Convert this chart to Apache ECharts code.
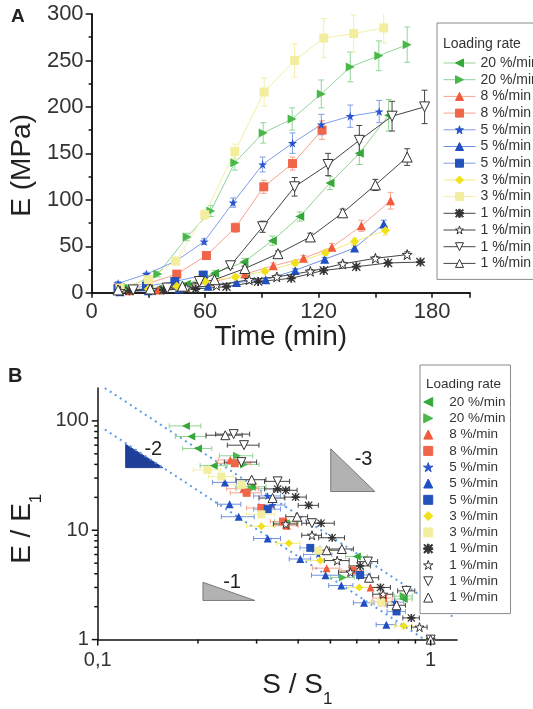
<!DOCTYPE html>
<html>
<head>
<meta charset="utf-8">
<script src="https://cdn.jsdelivr.net/npm/echarts@6/dist/echarts.min.js"></script>
<style>html,body{margin:0;padding:0;background:#fff}#c{width:533px;height:709px}</style>
</head>
<body>
<div id="c"></div>
<script>
const FONT = '"Liberation Sans", Arial, Helvetica, sans-serif';

// Legend labels, one per measurement series (same order in both panels)
const rateLabels = ['20 %/min', '20 %/min', '8 %/min', '8 %/min', '5 %/min', '5 %/min', '5 %/min',
  '3 %/min', '3 %/min', '1 %/min', '1 %/min', '1 %/min', '1 %/min'];

// Panel A: time (min), modulus E (MPa), standard deviation (MPa)
const tA0 = [20, 35, 50, 65, 80.5, 95.5, 110, 126, 141.5, 157];
const eA0 = [2, 4, 9, 21, 33, 56, 82, 118, 150, 191];
const sA0 = [1, 1, 2, 3, 4, 5, 5, 7, 12, 17];

const tA1 = [19, 35, 50.5, 63, 75.7, 90.7, 106, 121.4, 136.7, 151.8, 166.8];
const eA1 = [6, 20, 60, 88, 140, 172, 187, 214, 243, 255, 267];
const sA1 = [2, 3, 4, 6, 8, 11, 12, 15, 16, 16, 19];

const tA2 = [20, 35, 50, 65, 81, 96, 112, 127, 142.6, 158];
const eA2 = [2, 3, 6, 12, 20, 29, 37, 49, 72, 99];
const sA2 = [1, 1, 1, 2, 2, 3, 3, 4, 6, 9];

const tA3 = [14, 29.8, 45, 60.7, 76, 91, 106.2, 121.8];
const eA3 = [5, 10, 20, 40, 70, 114, 139, 175];
const sA3 = [1, 2, 2, 3, 5, 7, 7, 10];

const tA4 = [14, 29, 44.5, 59.5, 74.8, 90.4, 106.2, 121.4, 136.7, 152];
const eA4 = [10, 20, 34, 55, 97, 138, 161, 181, 190, 195];
const sA4 = [2, 2, 3, 3, 5, 8, 11, 11, 12, 12];

const tA5 = [15, 30, 46, 61.6, 76.6, 92, 107.6, 123.2, 139, 154.4];
const eA5 = [1, 2, 4, 7, 11, 14, 24, 36, 48, 74];
const sA5 = [1, 1, 1, 1, 1, 2, 2, 2, 3, 4];

const tA6 = [14, 29, 44, 59];
const eA6 = [4, 7, 12, 19];
const sA6 = [1, 1, 1, 2];

const tA7 = [15, 30, 45, 60, 76, 91.6, 107.6, 123.6, 139, 155.3];
const eA7 = [2, 4, 7, 12, 17, 23, 32, 43, 55, 67];
const sA7 = [1, 1, 1, 1, 2, 2, 3, 3, 4, 5];

const tA8 = [15, 30, 44.5, 59.8, 75.7, 91.2, 107.3, 122.7, 138.5, 154.4];
const eA8 = [5, 14, 34, 84, 152, 216, 250, 274, 279, 285];
const sA8 = [2, 2, 3, 5, 8, 15, 18, 21, 20, 16];

const tA9 = [20, 38, 55, 71.3, 88, 105.5, 122.7, 139.9, 156.7, 173.8];
const eA9 = [2, 3, 4, 6.5, 12, 15.5, 24, 28, 32, 33];
const sA9 = [1, 1, 1, 1, 1, 2, 2, 2, 2, 2];

const tA10 = [15, 32, 50, 66, 83.3, 97.9, 115.6, 132.7, 150, 166.8];
const eA10 = [2, 3, 5, 8, 14, 17, 23, 31, 37, 41];
const sA10 = [1, 1, 1, 1, 1, 2, 2, 2, 2, 3];

const tA11 = [22, 40, 57, 73.4, 90.4, 107.3, 125, 141.5, 158.8, 176];
const eA11 = [3, 5, 12, 29, 71, 114, 138, 164, 190, 200];
const sA11 = [1, 1, 2, 3, 6, 10, 12, 16, 16, 18];

const tA12 = [14, 31, 48, 65, 81, 98.5, 115.6, 132.7, 150, 166.8];
const eA12 = [3, 4, 7, 14, 26, 42, 60, 86, 116, 146];
const sA12 = [1, 1, 1, 1, 2, 3, 4, 4, 6, 9];

// Panel B: [S/S1, E/E1, error of S/S1]
const nB0 = [[0.184, 90, 0.02], [0.191, 72, 0.02], [0.2, 56, 0.02], [0.223, 39, 0.02], [0.29, 25, 0.03], [0.367, 11.6, 0.03], [0.6, 5.75, 0.045], [0.83, 2.35, 0.05], [1, 1, 0.02]];
const nB1 = [[0.262, 48, 0.03], [0.275, 40, 0.03], [0.29, 24, 0.03], [0.37, 12, 0.03], [0.545, 3.7, 0.045], [0.83, 2.5, 0.05], [1, 1, 0.02]];
const nB2 = [[0.25, 44, 0.02], [0.274, 24, 0.03], [0.37, 11, 0.03], [0.487, 4.5, 0.045], [0.66, 3.0, 0.045], [0.715, 2.2, 0.05], [1, 1, 0.02]];
const nB3 = [[0.258, 41, 0.03], [0.28, 22, 0.03], [0.31, 16, 0.03], [0.36, 12, 0.03], [0.583, 4.3, 0.045], [0.72, 2.4, 0.05], [1, 1, 0.02]];
const nB4 = [[0.324, 20.6, 0.03], [0.335, 17, 0.03], [0.46, 6.0, 0.045], [0.78, 2.2, 0.05], [1, 1, 0.02]];
const nB5 = [[0.241, 27.4, 0.02], [0.249, 17.3, 0.02], [0.265, 13.3, 0.03], [0.324, 8.4, 0.03], [0.406, 5.46, 0.03], [0.4835, 3.88, 0.045], [0.539, 3.12, 0.045], [0.631, 2.17, 0.045], [0.736, 1.37, 0.05], [1, 1, 0.02]];
const nB6 = [[0.324, 15.6, 0.03], [0.435, 6.9, 0.03], [0.614, 3.9, 0.045], [0.79, 1.81, 0.05], [1, 1, 0.02]];
const nB7 = [[0.31, 10.9, 0.03], [0.375, 7.6, 0.03], [0.466, 5.3, 0.045], [0.61, 3.0, 0.045], [0.83, 1.33, 0.05], [1, 1, 0.02]];
const nB8 = [[0.2135, 35.6, 0.02], [0.235, 31, 0.02], [0.27, 26, 0.03], [0.31, 14, 0.03], [0.46, 6.5, 0.045], [0.71, 2.2, 0.05], [1, 1, 0.02]];
const nB9 = [[0.347, 23.9, 0.03], [0.367, 23.2, 0.03], [0.393, 20.1, 0.03], [0.43, 16.9, 0.03], [0.4685, 11.6, 0.045], [0.506, 8.54, 0.045], [0.614, 4.72, 0.045], [0.707, 3.0, 0.05], [0.875, 1.58, 0.05], [1, 1, 0.02]];
const nB10 = [[0.367, 11.4, 0.03], [0.44, 9, 0.03], [0.524, 5.28, 0.045], [0.574, 4.14, 0.045], [0.72, 2.6, 0.05], [0.926, 1.3, 0.05], [1, 1, 0.02]];
const nB11 = [[0.256, 75.7, 0.03], [0.275, 60, 0.03], [0.27, 42, 0.03], [0.347, 28, 0.03], [0.44, 11.6, 0.03], [0.648, 5.17, 0.045], [0.846, 2.79, 0.05], [1, 1, 0.02]];
const nB12 = [[0.2416, 74, 0.03], [0.29, 29, 0.03], [0.335, 19.7, 0.03], [0.397, 13.3, 0.03], [0.487, 6.57, 0.045], [0.541, 6.74, 0.045], [0.653, 3.68, 0.045], [0.79, 2.06, 0.05], [1, 1, 0.02]];

// Power-law guide lines in panel B (E/E1 ~ (S/S1)^-2)
const guideUpper = [[0.105, 200], [1.18, 1.58]];
const guideLower = [[0.105, 83.5], [0.96, 1.0]];

// Slope triangles: vertices [S/S1, E/E1] and label anchor
const triSlope2 = [[0.1213, 37.4], [0.157, 37.4], [0.1213, 61]];
const triSlope3 = [[0.501, 22.6], [0.68, 22.6], [0.501, 55.6]];
const triSlope1 = [[0.207, 2.28], [0.2963, 2.28], [0.207, 3.34]];
const slopeLabels = ['-2', '-3', '-1'];
const slopeLabelAt = [[0.1468, 54.7], [0.6287, 44.5], [0.2532, 3.31]];

// Log-axis tick positions for panel B
const xMajorB = [0.1, 1];
const xMinorB = [0.2, 0.3, 0.4, 0.5, 0.6, 0.7, 0.8, 0.9];
const yMajorB = [1, 10, 100];
const yMinorB = [2, 3, 4, 5, 6, 7, 8, 9, 20, 30, 40, 50, 60, 70, 80, 90];

const timesA = [tA0, tA1, tA2, tA3, tA4, tA5, tA6, tA7, tA8, tA9, tA10, tA11, tA12];
const valuesA = [eA0, eA1, eA2, eA3, eA4, eA5, eA6, eA7, eA8, eA9, eA10, eA11, eA12];
const errorsA = [sA0, sA1, sA2, sA3, sA4, sA5, sA6, sA7, sA8, sA9, sA10, sA11, sA12];
const pointsB = [nB0, nB1, nB2, nB3, nB4, nB5, nB6, nB7, nB8, nB9, nB10, nB11, nB12];

// Marker shapes
const SYM = {
  left: 'path://M0,5L10,0L10,10Z',
  right: 'path://M10,5L0,0L0,10Z',
  up: 'path://M5,0L10,10L0,10Z',
  down: 'path://M0,0L10,0L5,10Z',
  square: 'path://M0,0H10V10H0Z',
  diamond: 'path://M5,0L10,5L5,10L0,5Z',
  star: 'path://M50,0L61.2,34.5L97.6,34.5L68.2,55.9L79.4,90.5L50,69.1L20.6,90.5L31.8,55.9L2.4,34.5L38.8,34.5Z',
  aster: 'path://M40,0L60,0L60,100L40,100Z M0,40L100,40L100,60L0,60Z M0,10L10,0L100,90L90,100Z M90,0L100,10L10,100L0,90Z'
};

// Per-series look: marker, marker colours, connecting line / error bar colour
const looks = [
  { sym: 'left', fill: '#36a83a', edge: '#36a83a', line: '#8fd38f' },
  { sym: 'right', fill: '#48b848', edge: '#48b848', line: '#8fd69a' },
  { sym: 'up', fill: '#f25a3a', edge: '#f25a3a', line: '#f8a592' },
  { sym: 'square', fill: '#f0664a', edge: '#f0664a', line: '#f7a28c' },
  { sym: 'star', fill: '#2a54cc', edge: '#2a54cc', line: '#7f9de6' },
  { sym: 'up', fill: '#1f4fc2', edge: '#1f4fc2', line: '#6f8fe0' },
  { sym: 'square', fill: '#2452bd', edge: '#2452bd', line: '#7f9ee6' },
  { sym: 'diamond', fill: '#f0e21a', edge: '#f0e21a', line: '#f3eb7a' },
  { sym: 'square', fill: '#f3ee9e', edge: '#f3ee9e', line: '#f4efa8' },
  { sym: 'aster', fill: '#333333', edge: '#333333', line: '#444444' },
  { sym: 'star', fill: '#ffffff', edge: '#333333', line: '#444444', open: true },
  { sym: 'down', fill: '#ffffff', edge: '#333333', line: '#444444', open: true },
  { sym: 'up', fill: '#ffffff', edge: '#333333', line: '#444444', open: true }
];

function vBars(color) {
  return function (params, api) {
    const x = api.value(0), y = api.value(1), e = api.value(2);
    const p1 = api.coord([x, y + e]), p2 = api.coord([x, y - e]);
    const c = 3, st = { stroke: color, lineWidth: 1 };
    return { type: 'group', children: [
      { type: 'line', shape: { x1: p1[0], y1: p1[1], x2: p2[0], y2: p2[1] }, style: st },
      { type: 'line', shape: { x1: p1[0] - c, y1: p1[1], x2: p1[0] + c, y2: p1[1] }, style: st },
      { type: 'line', shape: { x1: p2[0] - c, y1: p2[1], x2: p2[0] + c, y2: p2[1] }, style: st }
    ] };
  };
}

function hBars(color) {
  return function (params, api) {
    const x = api.value(0), y = api.value(1), e = api.value(2);
    const p1 = api.coord([x - e, y]), p2 = api.coord([x + e, y]);
    const c = 2.5, st = { stroke: color, lineWidth: 1 };
    return { type: 'group', children: [
      { type: 'line', shape: { x1: p1[0], y1: p1[1], x2: p2[0], y2: p2[1] }, style: st },
      { type: 'line', shape: { x1: p1[0], y1: p1[1] - c, x2: p1[0], y2: p1[1] + c }, style: st },
      { type: 'line', shape: { x1: p2[0], y1: p2[1] - c, x2: p2[0], y2: p2[1] + c }, style: st }
    ] };
  };
}

const series = [];

// Panel A: error bars then lines with markers
timesA.forEach(function (ts, i) {
  const lk = looks[i];
  series.push({
    type: 'custom', xAxisIndex: 0, yAxisIndex: 0, z: 2, silent: true, clip: true,
    data: ts.map(function (t, k) { return [t, valuesA[i][k], errorsA[i][k]]; }),
    encode: { x: 0, y: 1 },
    renderItem: vBars(lk.line)
  });
});
timesA.forEach(function (ts, i) {
  const lk = looks[i];
  series.push({
    type: 'line', name: 'A' + i, xAxisIndex: 0, yAxisIndex: 0, z: 3,
    data: ts.map(function (t, k) { return [t, valuesA[i][k]]; }),
    symbol: SYM[lk.sym], symbolSize: lk.open ? 10 : 9, showAllSymbol: true,
    itemStyle: { color: lk.fill, borderColor: lk.edge, borderWidth: lk.open ? 1 : 0 },
    lineStyle: { color: lk.line, width: 1 },
    emphasis: { disabled: true }
  });
});

// Panel B guide lines
[guideUpper, guideLower].forEach(function (g) {
  series.push({
    type: 'line', xAxisIndex: 2, yAxisIndex: 2, data: g, symbol: 'none', silent: true, z: 1,
    lineStyle: { color: '#5b9de6', width: 2, type: [2, 4] }, emphasis: { disabled: true }
  });
});

// Panel B slope triangles
const triangles = [
  { pts: triSlope2, fill: '#1f3e98', edge: '#1f3e98' },
  { pts: triSlope3, fill: '#b2b2b2', edge: '#7a7a7a' },
  { pts: triSlope1, fill: '#b2b2b2', edge: '#7a7a7a' }
];
series.push({
  type: 'custom', xAxisIndex: 2, yAxisIndex: 2, silent: true, clip: false, z: 1,
  data: [[0.5, 10]], encode: { x: 0, y: 1 },
  renderItem: function (params, api) {
    const kids = [];
    triangles.forEach(function (tr, k) {
      kids.push({ type: 'polygon', shape: { points: tr.pts.map(function (p) { return api.coord(p); }) },
        style: { fill: tr.fill, stroke: tr.edge, lineWidth: 1 } });
      const at = api.coord(slopeLabelAt[k]);
      kids.push({ type: 'text', x: at[0], y: at[1],
        style: { text: slopeLabels[k], fontSize: 20, fontFamily: FONT, fill: '#222', align: 'center', verticalAlign: 'middle' } });
    });
    return { type: 'group', children: kids };
  }
});

// Panel B log-axis ticks
series.push({
  type: 'custom', xAxisIndex: 2, yAxisIndex: 2, silent: true, clip: false, z: 5,
  data: [[0.5, 10]], encode: { x: 0, y: 1 },
  renderItem: function (params, api) {
    const kids = [], st = { stroke: '#111', lineWidth: 1.5 };
    xMajorB.concat(xMinorB).forEach(function (v) {
      const p = api.coord([v, 1]), len = xMajorB.indexOf(v) >= 0 ? 6 : 4;
      kids.push({ type: 'line', shape: { x1: p[0], y1: p[1], x2: p[0], y2: p[1] + len }, style: st });
    });
    yMajorB.concat(yMinorB).forEach(function (v) {
      const p = api.coord([0.1, v]), len = yMajorB.indexOf(v) >= 0 ? 6 : 3.5;
      kids.push({ type: 'line', shape: { x1: p[0], y1: p[1], x2: p[0] - len, y2: p[1] }, style: st });
    });
    return { type: 'group', children: kids };
  }
});

// Panel B: horizontal error bars then markers
pointsB.forEach(function (pts, i) {
  series.push({
    type: 'custom', xAxisIndex: 2, yAxisIndex: 2, z: 2, silent: true, clip: false,
    data: pts, encode: { x: 0, y: 1 },
    renderItem: hBars(looks[i].line)
  });
});
pointsB.forEach(function (pts, i) {
  const lk = looks[i];
  series.push({
    type: 'scatter', name: 'B' + i, xAxisIndex: 2, yAxisIndex: 2, z: 3,
    data: pts.map(function (p) { return [p[0], p[1]]; }),
    symbol: SYM[lk.sym], symbolSize: lk.open ? 9 : 8,
    itemStyle: { color: lk.fill, borderColor: lk.edge, borderWidth: lk.open ? 1 : 0, opacity: 1 },
    emphasis: { disabled: true }
  });
});

const axisLineStyle = { color: '#111', width: 1.5 };
const tickLabel = { color: '#333', fontFamily: FONT };

function decadeLabel(v) {
  const l = Math.log10(v);
  if (Math.abs(l - Math.round(l)) > 1e-6) return '';
  return String(+v.toPrecision(3)).replace('.', ',');
}

const option = {
  animation: false,
  backgroundColor: '#fff',
  textStyle: { fontFamily: FONT },
  title: [
    { text: 'A', left: 11, top: 7, padding: 0, textStyle: { fontSize: 19, fontWeight: 'bold', color: '#222', fontFamily: FONT } },
    { text: 'B', left: 8, top: 366, padding: 0, textStyle: { fontSize: 20, fontWeight: 'bold', color: '#222', fontFamily: FONT } },
    { text: 'Loading rate', left: 443, top: 37, padding: 0, textStyle: { fontSize: 14, fontWeight: 'normal', color: '#333', fontFamily: FONT } },
    { text: 'Loading rate', left: 426, top: 377, padding: 0, textStyle: { fontSize: 13.5, fontWeight: 'normal', color: '#333', fontFamily: FONT } }
  ],
  legend: [
    {
      data: timesA.map(function (_, i) { return 'A' + i; }),
      orient: 'vertical', left: 437, top: 23, itemWidth: 32, itemHeight: 10, itemGap: 2.7,
      padding: [33, 12, 9, 6], backgroundColor: '#fff', borderColor: '#8a8a8a', borderWidth: 1,
      selectedMode: false, z: 4,
      itemStyle: { borderWidth: 1 }, lineStyle: { width: 1 },
      textStyle: { fontSize: 14, color: '#333', fontFamily: FONT },
      formatter: function (name) { return rateLabels[+name.slice(1)]; }
    },
    {
      data: pointsB.map(function (_, i) { return 'B' + i; }),
      orient: 'vertical', left: 420, top: 365, itemWidth: 32, itemHeight: 9, itemGap: 2.3,
      padding: [30, 5, 9, 3], backgroundColor: '#fff', borderColor: '#8a8a8a', borderWidth: 1,
      selectedMode: false, z: 4,
      itemStyle: { borderWidth: 1 },
      textStyle: { fontSize: 13.5, color: '#333', fontFamily: FONT },
      formatter: function (name) { return rateLabels[+name.slice(1)]; }
    }
  ],
  grid: [
    { left: 90, right: 63, top: 14, bottom: 416.3 },
    { left: 88, right: 76, top: 388, bottom: 53 }
  ],
  xAxis: [
    {
      gridIndex: 0, type: 'value', min: 0, max: 200, interval: 30, position: 'bottom',
      axisLine: { show: true, lineStyle: axisLineStyle },
      axisTick: { show: true, length: 5, lineStyle: axisLineStyle },
      axisLabel: Object.assign({ fontSize: 22, margin: 8,
        formatter: function (v) { return (v % 60 === 0 && v <= 180) ? String(v) : ''; } }, tickLabel),
      splitLine: { show: false },
      name: 'Time (min)', nameLocation: 'middle', nameGap: 28,
      nameTextStyle: { fontSize: 28, color: '#222', fontFamily: FONT, verticalAlign: 'top' }
    },
    {
      gridIndex: 0, type: 'value', min: 0, max: 200, interval: 30, position: 'top',
      axisLine: { show: true, lineStyle: axisLineStyle },
      axisTick: { show: true, inside: true, length: 5, lineStyle: axisLineStyle },
      axisLabel: { show: false }, splitLine: { show: false }
    },
    {
      gridIndex: 1, type: 'log', logBase: 10, min: 0.1, max: 1.2,
      axisLine: { show: true, lineStyle: axisLineStyle },
      axisTick: { show: false },
      axisLabel: Object.assign({ fontSize: 20, margin: 11, formatter: decadeLabel }, tickLabel),
      splitLine: { show: false }, minorTick: { show: false },
      name: 'S / S{s|1}', nameLocation: 'middle', nameGap: 15,
      nameTextStyle: { fontSize: 28, color: '#222', fontFamily: FONT, verticalAlign: 'top', padding: [0, 0, 0, 40],
        rich: { s: { fontSize: 17, fontFamily: FONT, color: '#222', padding: [28, 0, 0, 0], verticalAlign: 'bottom' } } }
    }
  ],
  yAxis: [
    {
      gridIndex: 0, type: 'value', min: 0, max: 300, interval: 50,
      axisLine: { show: true, lineStyle: axisLineStyle },
      axisTick: { show: true, length: 6, lineStyle: axisLineStyle },
      minorTick: { show: true, splitNumber: 2, length: 3, lineStyle: axisLineStyle },
      axisLabel: Object.assign({ fontSize: 22, margin: 8 }, tickLabel),
      splitLine: { show: false }, minorSplitLine: { show: false },
      name: 'E (MPa)', nameLocation: 'middle', nameGap: 52,
      nameTextStyle: { fontSize: 28, color: '#222', fontFamily: FONT, padding: [0, 24, 0, 0] }
    },
    {
      gridIndex: 0, type: 'value', min: 0, max: 300, position: 'right',
      axisLine: { show: true, lineStyle: axisLineStyle },
      axisTick: { show: false }, axisLabel: { show: false }, splitLine: { show: false }
    },
    {
      gridIndex: 1, type: 'log', logBase: 10, min: 1, max: 200,
      axisLine: { show: true, lineStyle: axisLineStyle },
      axisTick: { show: false },
      axisLabel: Object.assign({ fontSize: 20, margin: 9, formatter: decadeLabel }, tickLabel),
      splitLine: { show: false }, minorTick: { show: false },
      name: 'E / E{s|1}', nameLocation: 'middle', nameGap: 48,
      nameTextStyle: { fontSize: 28, color: '#222', fontFamily: FONT, padding: [0, 30, 0, 0],
        rich: { s: { fontSize: 17, fontFamily: FONT, color: '#222', padding: [28, 0, 0, 0], verticalAlign: 'bottom' } } }
    }
  ],
  series: series
};

const chart = echarts.init(document.getElementById('c'), null, { renderer: 'canvas' });
chart.setOption(option);
</script>
</body>
</html>
